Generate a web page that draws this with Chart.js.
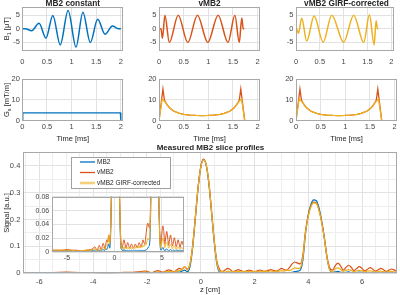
<!DOCTYPE html>
<html><head><meta charset="utf-8">
<script src="https://cdn.jsdelivr.net/npm/chart.js@4.4.1/dist/chart.umd.min.js"></script>
<style>
html,body{margin:0;padding:0;background:#fff;}
#fig{position:relative;width:400px;height:295px;overflow:hidden;background:#fff;}
#fig canvas{position:absolute;left:0;top:0;}
</style></head><body>
<div id="fig">
<canvas id="b1a" width="400" height="295"></canvas>
<canvas id="b1b" width="400" height="295"></canvas>
<canvas id="b1c" width="400" height="295"></canvas>
<canvas id="ga" width="400" height="295"></canvas>
<canvas id="gb" width="400" height="295"></canvas>
<canvas id="gc" width="400" height="295"></canvas>
<canvas id="prof" width="400" height="295"></canvas>
<canvas id="inset" width="400" height="295"></canvas>
</div>
<script>
// ---------------- DATA ----------------
// Top row: RF amplitude B1 [uT] vs time [ms] (turning points of each waveform)
const tMB2  = [0, 0.06, 0.19, 0.34, 0.48, 0.62, 0.77, 0.93, 1.09, 1.23, 1.38, 1.53, 1.68, 1.83, 1.95, 2.0];
const b1MB2 = [0, 0, -0.7, 2.0, -3.4, 4.9, -5.9, 6.7, -6.7, 6.1, -5.0, 3.5, -2.0, 1.0, 0, 0];
const tVMB2  = [0, 0.04, 0.07, 0.12, 0.21, 0.39, 0.585, 0.78, 0.99, 1.20, 1.40, 1.54, 1.63, 1.68, 1.71, 1.73];
const b1VMB2 = [0, 0, -3.5, 5.0, -5.0, 5.0, -5.0, 5.0, -5.0, 5.0, -5.0, 5.0, -5.0, 4.0, 0, 0];
const tGIRF  = [0, 0.015, 0.05, 0.12, 0.225, 0.38, 0.57, 0.75, 1.0, 1.21, 1.42, 1.54, 1.64, 1.68, 1.71, 1.73];
const b1GIRF = [0, 0, -1.7, 3.9, -4.5, 4.7, -4.9, 5.0, -4.9, 5.0, -5.0, 5.2, -5.9, 3.0, 0, 0];

// Middle row: slice gradient Gs [mT/m] vs time [ms]
const tGconst = [0, 0.01, 1.99, 2.0];
const gConst  = [0, 3.8, 3.8, 0];
const tGnom = [0, 0.08, 0.11, 0.14, 0.185, 0.22, 0.29, 0.35, 0.42, 0.5, 0.63, 0.75, 0.87, 0.99, 1.11, 1.24, 1.32, 1.39, 1.45, 1.52, 1.555, 1.60, 1.63, 1.66, 1.74];
const gNom  = [0, 15.3, 10.0, 8.6, 7.1, 6.1, 4.8, 4.1, 3.5, 3.1, 2.7, 2.55, 2.5, 2.55, 2.7, 3.1, 3.5, 4.1, 4.8, 6.1, 7.1, 8.6, 10.0, 15.3, 0];
const tGcor = [0, 0.065, 0.11, 0.14, 0.185, 0.22, 0.29, 0.35, 0.42, 0.5, 0.63, 0.75, 0.87, 0.99, 1.11, 1.24, 1.32, 1.39, 1.45, 1.52, 1.555, 1.60, 1.63, 1.675, 1.74];
const gCor  = [0, 10.5, 9.4, 8.6, 7.1, 6.1, 4.8, 4.1, 3.5, 3.1, 2.7, 2.55, 2.5, 2.55, 2.7, 3.1, 3.5, 4.1, 4.8, 6.1, 7.1, 8.6, 9.4, 10.5, 0];

// Bottom: measured slice profiles, signal [a.u.] vs z [cm]
const zGrid = [-6.6, -6.0, -5.5, -5.0, -4.5, -4.0, -3.5, -3.0, -2.5,
  -2.2, -2.1, -2.0, -1.9, -1.8, -1.7, -1.6, -1.5, -1.4, -1.3,
  -1.2, -1.1, -1.0, -0.9, -0.8, -0.7, -0.6, -0.5, -0.4, -0.3,
  -0.2, -0.1, 0.0, 0.1, 0.2, 0.3, 0.4, 0.5, 0.6, 0.7,
  0.8, 0.9, 1.0, 1.1, 1.2, 1.3, 1.4, 1.5, 1.6, 1.7,
  1.8, 1.9, 2.0, 2.1, 2.2, 2.3, 2.4, 2.5, 2.6, 2.7,
  2.8, 2.9, 3.0, 3.1, 3.2, 3.3, 3.4, 3.5, 3.6, 3.7,
  3.8, 3.9, 4.0, 4.1, 4.2, 4.3, 4.4, 4.5, 4.6, 4.7,
  4.8, 4.9, 5.0, 5.1, 5.2, 5.3, 5.4, 5.5, 5.6, 5.7,
  5.8, 5.9, 6.0, 6.1, 6.2, 6.3, 6.4, 6.5, 6.6, 6.7,
  6.8, 6.9, 7.0, 7.1, 7.2, 7.3];
const profMB2 = [0.002, 0.002, 0.002, 0.003, 0.002, 0.002, 0.001, 0.002, 0.002,
  0.003, 0.003, 0.002, 0.002, 0.002, 0.003, 0.003, 0.002, 0.002, 0.003,
  0.004, 0.003, 0.003, 0.005, 0.004, 0.008, 0.012, 0.006, 0.025, 0.095,
  0.205, 0.315, 0.395, 0.423, 0.403, 0.335, 0.228, 0.118, 0.035, 0.005,
  0.004, 0.002, 0.004, 0.002, 0.003, 0.002, 0.003, 0.002, 0.003, 0.002,
  0.003, 0.002, 0.003, 0.002, 0.003, 0.002, 0.003, 0.002, 0.003, 0.002,
  0.003, 0.002, 0.003, 0.002, 0.003, 0.003, 0.004, 0.006, 0.008, 0.012,
  0.050, 0.150, 0.218, 0.257, 0.273, 0.270, 0.243, 0.193, 0.130, 0.055,
  0.012, 0.003, 0.005, 0.007, 0.004, 0.002, 0.004, 0.005, 0.003, 0.002,
  0.003, 0.004, 0.003, 0.002, 0.003, 0.003, 0.002, 0.002, 0.003, 0.003,
  0.002, 0.002, 0.002, 0.003, 0.002, 0.002];
const profVMB2 = [0.003, 0.003, 0.003, 0.004, 0.003, 0.003, 0.002, 0.003, 0.004,
  0.006, 0.008, 0.007, 0.004, 0.003, 0.007, 0.010, 0.007, 0.004, 0.008,
  0.013, 0.010, 0.005, 0.012, 0.018, 0.015, 0.025, 0.015, 0.035, 0.105,
  0.210, 0.320, 0.395, 0.425, 0.405, 0.340, 0.235, 0.125, 0.045, 0.014,
  0.006, 0.012, 0.018, 0.013, 0.006, 0.010, 0.014, 0.010, 0.006, 0.009,
  0.012, 0.009, 0.006, 0.009, 0.012, 0.009, 0.007, 0.010, 0.014, 0.011,
  0.008, 0.012, 0.018, 0.014, 0.012, 0.022, 0.035, 0.042, 0.038, 0.035,
  0.070, 0.160, 0.215, 0.250, 0.265, 0.262, 0.235, 0.190, 0.130, 0.060,
  0.020, 0.012, 0.028, 0.038, 0.028, 0.012, 0.022, 0.030, 0.022, 0.010,
  0.018, 0.025, 0.018, 0.009, 0.015, 0.021, 0.015, 0.008, 0.013, 0.018,
  0.013, 0.007, 0.012, 0.016, 0.012, 0.008];
const profGIRF = [0.003, 0.003, 0.003, 0.003, 0.003, 0.002, 0.002, 0.003, 0.003,
  0.004, 0.005, 0.004, 0.003, 0.003, 0.004, 0.005, 0.004, 0.003, 0.005,
  0.007, 0.006, 0.004, 0.008, 0.010, 0.012, 0.025, 0.012, 0.035, 0.100,
  0.210, 0.318, 0.393, 0.422, 0.405, 0.340, 0.232, 0.122, 0.040, 0.009,
  0.006, 0.004, 0.008, 0.005, 0.007, 0.005, 0.007, 0.005, 0.007, 0.005,
  0.007, 0.005, 0.007, 0.005, 0.008, 0.006, 0.008, 0.006, 0.009, 0.006,
  0.009, 0.007, 0.010, 0.008, 0.012, 0.010, 0.015, 0.020, 0.018, 0.020,
  0.060, 0.155, 0.212, 0.248, 0.262, 0.260, 0.233, 0.188, 0.128, 0.056,
  0.012, 0.006, 0.016, 0.020, 0.015, 0.007, 0.012, 0.014, 0.011, 0.006,
  0.009, 0.011, 0.009, 0.005, 0.008, 0.009, 0.007, 0.004, 0.007, 0.008,
  0.006, 0.004, 0.006, 0.007, 0.005, 0.004];
const legendLabels = ['MB2', 'vMB2', 'vMB2 GIRF-corrected'];

// ---------------- STYLE ----------------
const FAMILY = "'Liberation Sans', Arial, Helvetica, sans-serif";
const W = 400, H = 295;
const C_BLUE = '#0072BD', C_ORANGE = '#D95319', C_YELLOW = '#EDB120';
const TICK_COLOR = '#454545', TEXT_COLOR = '#262626';
const GRID = '#e2e2e2', GRID_MINOR = '#eeeeee', FRAME = '#a8a8a8';
Chart.defaults.font.family = FAMILY;
Chart.defaults.color = TICK_COLOR;

function pts(xs, ys) { return xs.map((x, i) => ({ x: x, y: ys[i] })); }
function series(xs, ys, color, width, order, smooth, label) {
  return { label: label || '', data: pts(xs, ys), borderColor: color, backgroundColor: color, borderWidth: width,
    pointRadius: 0, fill: false, order: order, tension: 0,
    cubicInterpolationMode: smooth ? 'monotone' : 'default' };
}

// ---------------- PLUGINS ----------------
const framePlugin = {
  id: 'frame',
  beforeDraw(chart, args, o) {
    if (!o || !o.fill) return;
    const a = chart.chartArea, c = chart.ctx;
    c.save(); c.fillStyle = o.fill; c.fillRect(a.left, a.top, a.right - a.left, a.bottom - a.top); c.restore();
  },
  afterDraw(chart, args, o) {
    if (!o || !o.color) return;
    const a = chart.chartArea, c = chart.ctx;
    const l = Math.round(a.left) + 0.5, t = Math.round(a.top) + 0.5;
    const r = Math.round(a.right) - 0.5, b = Math.round(a.bottom) - 0.5;
    c.save(); c.strokeStyle = o.color; c.lineWidth = 1; c.strokeRect(l, t, r - l, b - t); c.restore();
  }
};
const textPlugin = {
  id: 'texts',
  afterDraw(chart, args, o) {
    if (!o || !o.items) return;
    const c = chart.ctx;
    o.items.forEach(it => {
      c.save();
      c.translate(it.x, it.y);
      if (it.rot) c.rotate(it.rot);
      const size = it.size || 7.5;
      const parts = it.parts || [{ t: it.t }];
      const wt = it.bold ? 'bold ' : '';
      const fonts = parts.map(p => wt + (p.sub ? size * 0.72 : size) + 'px ' + FAMILY);
      const widths = parts.map((p, i) => { c.font = fonts[i]; return c.measureText(p.t).width; });
      const total = widths.reduce((s, w) => s + w, 0);
      let x = -total / 2;
      c.fillStyle = it.color || TEXT_COLOR;
      c.textBaseline = 'middle'; c.textAlign = 'left';
      parts.forEach((p, i) => { c.font = fonts[i]; c.fillText(p.t, x, p.sub ? size * 0.32 : 0); x += widths[i]; });
      c.restore();
    });
  }
};
const legendPlugin = {
  id: 'boxLegend',
  afterDraw(chart, args, o) {
    if (!o || !o.box) return;
    const c = chart.ctx, [bx, by, bw, bh] = o.box;
    c.save();
    c.fillStyle = '#fff'; c.fillRect(bx, by, bw, bh);
    c.strokeStyle = '#a0a0a0'; c.lineWidth = 1; c.strokeRect(bx + 0.5, by + 0.5, bw, bh);
    chart.data.datasets.forEach((ds, i) => {
      const y = o.rows[i];
      c.strokeStyle = o.sampleColors[i]; c.lineWidth = o.sampleWidths[i];
      c.beginPath(); c.moveTo(o.x0, y); c.lineTo(o.x1, y); c.stroke();
      c.fillStyle = TEXT_COLOR; c.font = o.size + 'px ' + FAMILY;
      c.textBaseline = 'middle'; c.textAlign = 'left';
      c.fillText(ds.label, o.tx, y);
    });
    c.restore();
  }
};

// ---------------- FACTORY ----------------
function axis(min, max, step, o) {
  return {
    type: 'linear', min: min, max: max,
    ticks: { stepSize: step, includeBounds: false, autoSkip: false, maxRotation: 0, minRotation: 0,
      padding: o.pad, font: { size: o.size || 7.5 }, color: TICK_COLOR, callback: o.cb },
    grid: { color: o.grid || GRID, drawTicks: false, lineWidth: 1 },
    border: { display: false }
  };
}
function makePlot(id, box, datasets, xAx, yAx, extra) {
  xAx.afterFit = s => { s.height = box.xH; };
  yAx.afterFit = s => { s.width = box.yW; };
  const plugs = Object.assign({ legend: { display: false }, tooltip: { enabled: false },
    frame: { color: FRAME, fill: box.fill } }, extra || {});
  return new Chart(document.getElementById(id), {
    type: 'line',
    data: { datasets: datasets },
    plugins: [framePlugin, textPlugin, legendPlugin],
    options: {
      responsive: false, animation: false, events: [],
      layout: { padding: { left: box.L - box.yW, top: box.T, right: W - box.R, bottom: H - box.B - box.xH } },
      plugins: plugs,
      scales: { x: xAx, y: yAx }
    }
  });
}
const halfCb = v => (Math.abs(v * 2 - Math.round(v * 2)) < 1e-6 ? String(v) : '');

// ---------------- TOP ROW (B1) ----------------
const colsL = [22.3, 159, 296], colsR = [123.3, 260, 397];
const b1Sets = [
  [series(tMB2, b1MB2, C_BLUE, 1.5, 0, true)],
  [series(tVMB2, b1VMB2, C_ORANGE, 1.5, 0, true)],
  [series(tGIRF, b1GIRF, C_YELLOW, 1.5, 0, true)]
];
['b1a', 'b1b', 'b1c'].forEach((id, k) => {
  makePlot(id, { L: colsL[k], R: colsR[k], T: 6.8, B: 50.6, yW: 20, xH: 22 }, b1Sets[k],
    axis(0, 2.05, 0.5, { pad: 6.5, cb: halfCb }),
    axis(-8, 8, 5, { pad: 2.5 }));
});

// ---------------- MIDDLE ROW (Gs) ----------------
const gSets = [
  [series(tGconst, gConst, C_BLUE, 1.3, 0, false)],
  [series(tGcor, gCor, C_YELLOW, 1.3, 0, false), series(tGnom, gNom, C_ORANGE, 1.3, 1, false)],
  [series(tGcor, gCor, C_YELLOW, 1.3, 0, false), series(tGnom, gNom, C_ORANGE, 1.3, 1, false)]
];
['ga', 'gb', 'gc'].forEach((id, k) => {
  makePlot(id, { L: colsL[k], R: colsR[k], T: 79.3, B: 120.7, yW: 20, xH: 16 }, gSets[k],
    axis(0, 2.05, 0.5, { pad: 1.5, cb: halfCb }),
    axis(0, 20, 10, { pad: 2.5 }));
});

// ---------------- BOTTOM (profiles) ----------------
const figTexts = [
  { t: 'MB2 constant', x: 72.8, y: 4, bold: true, size: 8.3 },
  { t: 'vMB2', x: 209.5, y: 4, bold: true, size: 8.3 },
  { t: 'vMB2 GIRF-corrected', x: 346.5, y: 4, bold: true, size: 8.3 },
  { parts: [{ t: 'B' }, { t: '1', sub: true }, { t: ' [μT]' }], x: 7, y: 28.7, rot: -Math.PI / 2 },
  { parts: [{ t: 'G' }, { t: 's', sub: true }, { t: ' [mT/m]' }], x: 7, y: 100, rot: -Math.PI / 2 },
  { t: 'Time [ms]', x: 72.8, y: 138.5 },
  { t: 'Time [ms]', x: 209.5, y: 138.5 },
  { t: 'Time [ms]', x: 346.5, y: 138.5 },
  { t: 'Measured MB2 slice profiles', x: 210.5, y: 147.5, bold: true, size: 8 },
  { t: 'Signal [a.u.]', x: 6.5, y: 213, rot: -Math.PI / 2 },
  { t: 'z [cm]', x: 210, y: 290 }
];
const profSets = () => [
  series(zGrid, profMB2, C_BLUE, 1.2, 2, true, legendLabels[0]),
  series(zGrid, profVMB2, C_ORANGE, 1.2, 1, true, legendLabels[1]),
  series(zGrid, profGIRF, C_YELLOW, 1.2, 0, true, legendLabels[2])
];
const zAxis = axis(-6.6, 7.3, 0.5, { pad: 4, cb: v => (Math.abs(v / 2 - Math.round(v / 2)) < 1e-6 ? String(v) : '') });
zAxis.grid.color = c => (c.tick && Math.abs(c.tick.value / 2 - Math.round(c.tick.value / 2)) < 1e-6 ? GRID : GRID_MINOR);
const sAxis = axis(0, 0.45, 0.05, { pad: 3, cb: v => { const k = Math.round(v * 100); return k % 10 === 0 ? (k === 0 ? '0' : (k / 100).toFixed(1)) : ''; } });
sAxis.grid.color = c => (c.tick && Math.round(c.tick.value * 100) % 10 === 0 ? GRID : GRID_MINOR);
makePlot('prof', { L: 23.3, R: 397, T: 152.3, B: 273.3, yW: 20, xH: 20 }, profSets(), zAxis, sAxis, {
  texts: { items: figTexts },
  boxLegend: { box: [71, 157, 99, 31], rows: [162, 172.5, 183], x0: 80, x1: 95, tx: 97, size: 6.5,
    sampleColors: [C_BLUE, C_ORANGE, 'rgba(237,177,32,0.6)'], sampleWidths: [1.3, 1.3, 2.6] }
});

// ---------------- INSET ----------------
const insetSets = profSets().map(d => Object.assign(d, { borderWidth: 1 }));
makePlot('inset', { L: 51.7, R: 184.3, T: 196.7, B: 252.3, yW: 20, xH: 14, fill: '#fff' }, insetSets,
  axis(-6.6, 7.35, 5, { pad: 1.8, size: 7 }),
  axis(0, 0.08, 0.02, { pad: 2.5, size: 7, cb: v => (Math.round(v * 100) === 0 ? '0' : v.toFixed(2)) }));
</script>
</body></html>
